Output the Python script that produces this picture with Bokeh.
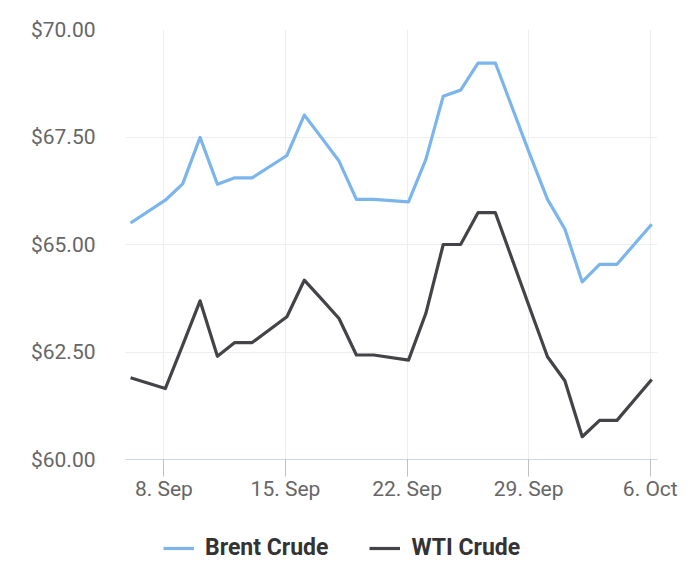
import pandas as pd
from bokeh.plotting import figure
from bokeh.layouts import column
from bokeh.models import (Range1d, FixedTicker, NumeralTickFormatter, Legend, LegendItem,
                          ColumnDataSource)
from bokeh.embed import file_html
from bokeh.resources import INLINE

# ---- data ----
dates = ["2025-09-06", "2025-09-08", "2025-09-09", "2025-09-10", "2025-09-11", "2025-09-12",
         "2025-09-13", "2025-09-15", "2025-09-16", "2025-09-17", "2025-09-18", "2025-09-19",
         "2025-09-20", "2025-09-22", "2025-09-23", "2025-09-24", "2025-09-25", "2025-09-26",
         "2025-09-27", "2025-09-29", "2025-09-30", "2025-10-01", "2025-10-02", "2025-10-03",
         "2025-10-04", "2025-10-06"]
brent = [65.50, 66.03, 66.41, 67.49, 66.40, 66.55, 66.55, 67.07, 68.01, 67.48, 66.94, 66.05,
         66.05, 65.99, 66.98, 68.45, 68.59, 69.22, 69.22, 67.08, 66.05, 65.36, 64.13, 64.54,
         64.54, 65.47]
wti = [61.90, 61.65, 62.66, 63.69, 62.40, 62.72, 62.72, 63.32, 64.17, 63.73, 63.28, 62.43,
       62.43, 62.31, 63.40, 65.00, 65.00, 65.74, 65.74, 63.50, 62.39, 61.83, 60.53, 60.91,
       60.91, 61.86]
series_names = ["Brent Crude", "WTI Crude"]
series_colors = ["#7cb5ec", "#434348"]
x_tick_dates = ["2025-09-08", "2025-09-15", "2025-09-22", "2025-09-29", "2025-10-06"]
x_tick_labels = ["8. Sep", "15. Sep", "22. Sep", "29. Sep", "6. Oct"]
y_ticks = [60, 62.5, 65, 67.5, 70]

LW = 3.2

# ---- main chart ----
x = pd.to_datetime(dates) + pd.Timedelta(hours=2)
src = ColumnDataSource(dict(x=x, brent=brent, wti=wti))

p = figure(width=692, height=510, x_axis_type="datetime",
           output_backend="svg", toolbar_location=None,
           min_border_left=125, min_border_right=35, min_border_top=29, min_border_bottom=51)
p.x_range = Range1d(pd.Timestamp("2025-09-05 19:00"), pd.Timestamp("2025-10-06 10:00"))
p.y_range = Range1d(60, 70)
p.outline_line_color = None
p.background_fill_color = "white"
p.border_fill_color = "white"

p.line("x", "brent", source=src, line_color=series_colors[0], line_width=LW, line_join="round")
p.line("x", "wti", source=src, line_color=series_colors[1], line_width=LW, line_join="round")

tick_ms = [pd.Timestamp(d).value / 1e6 for d in x_tick_dates]
p.xaxis.ticker = FixedTicker(ticks=tick_ms)
p.xaxis.major_label_overrides = {t: lab for t, lab in zip(tick_ms, x_tick_labels)}
p.xaxis.axis_line_color = "#ccd6eb"
p.xaxis.axis_line_width = 1
p.xaxis.major_tick_line_color = "#c0c0c0"
p.xaxis.major_tick_out = 17
p.xaxis.major_tick_in = 0
p.xaxis.minor_tick_line_color = None
p.xaxis.major_label_standoff = 0
p.xaxis.major_label_text_font = "Roboto"
p.xaxis.major_label_text_font_size = "21px"
p.xaxis.major_label_text_color = "#666666"

p.yaxis.ticker = FixedTicker(ticks=y_ticks)
p.yaxis.formatter = NumeralTickFormatter(format="$0.00")
p.yaxis.axis_line_color = None
p.yaxis.major_tick_line_color = None
p.yaxis.minor_tick_line_color = None
p.yaxis.major_tick_out = 0
p.yaxis.major_tick_in = 0
p.yaxis.major_label_standoff = 30
p.yaxis.major_label_text_font = "Roboto"
p.yaxis.major_label_text_font_size = "21px"
p.yaxis.major_label_text_color = "#666666"

p.xgrid.grid_line_color = "#eeeeee"
p.ygrid.grid_line_color = "#eeeeee"
p.xgrid.ticker = p.xaxis.ticker
p.ygrid.ticker = p.yaxis.ticker

# ---- legend strip (frame is aligned with the main chart's frame by the column) ----
lg = figure(width=692, height=61, output_backend="svg", toolbar_location=None,
            x_axis_location=None, y_axis_location=None,
            min_border_left=0, min_border_right=0, min_border_top=0, min_border_bottom=0)
lg.x_range = Range1d(0, 1)
lg.y_range = Range1d(0, 1)
lg.outline_line_color = None
lg.xgrid.visible = False
lg.ygrid.visible = False
nan = float("nan")
lr = [lg.line(x=[nan, nan], y=[nan, nan], line_color=c, line_width=LW) for c in series_colors]

legend = Legend(items=[LegendItem(label=n, renderers=[r]) for n, r in zip(series_names, lr)],
                location=(38, 10), orientation="horizontal")
legend.padding = 0
legend.margin = 0
legend.spacing = 41
legend.glyph_width = 31
legend.glyph_height = 20
legend.label_height = 20
legend.label_standoff = 11
legend.label_text_font = "Roboto"
legend.label_text_font_style = "bold"
legend.label_text_font_size = "23px"
legend.label_text_color = "#333333"
legend.border_line_color = None
legend.background_fill_alpha = 0
lg.add_layout(legend, "center")

layout = column(p, lg, spacing=0)
open("out.html", "w").write(file_html(layout, INLINE))
